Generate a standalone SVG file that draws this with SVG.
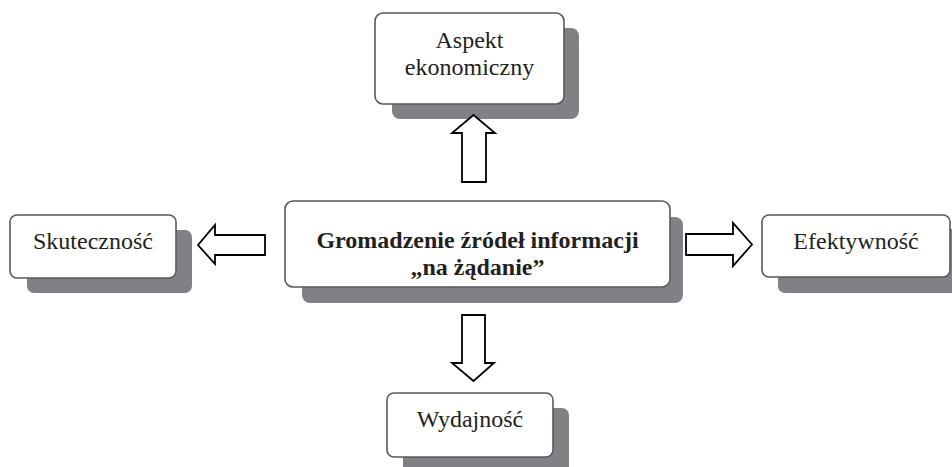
<svg xmlns="http://www.w3.org/2000/svg" width="952" height="467" viewBox="0 0 952 467">
<style>
.sh{fill:#808184;}
.bx{fill:#fff;stroke:#58595b;stroke-width:1.6;}
.t{font-family:"Liberation Serif","Times New Roman",serif;font-size:24px;fill:#231f20;text-anchor:middle;}
.b{font-weight:bold;}
.ar{fill:#fff;stroke:#000;stroke-width:1.8;stroke-linejoin:miter;}
</style>
<rect width="952" height="467" fill="#fff"/>
<g id="aspekt">
<rect class="sh" x="392" y="28" width="187" height="91" rx="8"/>
<rect class="bx" x="375" y="13" width="189" height="91" rx="8"/>
<text class="t" x="469.5" y="48">Aspekt</text>
<text class="t" x="469.5" y="75">ekonomiczny</text>
</g>
<g id="center">
<rect class="sh" x="302" y="217" width="381" height="86" rx="8"/>
<rect class="bx" x="285" y="201" width="385" height="86" rx="8"/>
<text class="t b" x="477.5" y="248">Gromadzenie źródeł informacji</text>
<text class="t b" x="477.5" y="275">„na żądanie”</text>
</g>
<g id="skutecznosc">
<rect class="sh" x="27" y="230" width="165" height="63" rx="7"/>
<rect class="bx" x="10" y="215" width="166" height="63" rx="7"/>
<text class="t" x="93" y="249">Skuteczność</text>
</g>
<g id="efektywnosc">
<rect class="sh" x="778" y="229" width="180" height="64" rx="7"/>
<rect class="bx" x="762" y="215" width="188" height="62" rx="7"/>
<text class="t" x="856" y="249">Efektywność</text>
</g>
<g id="wydajnosc">
<rect class="sh" x="403" y="408" width="166" height="70" rx="7"/>
<rect class="bx" x="387" y="393" width="166" height="64" rx="7"/>
<text class="t" x="470" y="427">Wydajność</text>
</g>
<g id="connectors">
<polygon class="ar" points="462,182 462,133 452,133 473.5,115 495,133 486,133 486,182"/>
<polygon class="ar" points="265,235 215,235 215,225 198,245 215,264 215,255 265,255"/>
<polygon class="ar" points="686,234 733,234 733,223 752,244.5 733,266 733,255 686,255"/>
<polygon class="ar" points="462,315 485,315 485,363 494,363 473.5,381 452,363 462,363"/>
</g>
</svg>
